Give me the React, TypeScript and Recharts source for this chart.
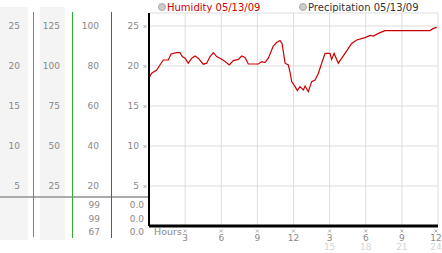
import { LineChart, Line, XAxis, YAxis, CartesianGrid } from "recharts";

// hours since midnight, humidity in %
const hours = [
  0, 0.22, 0.64, 0.91, 1.19, 1.6, 1.83, 2.3, 2.57, 2.77, 2.99, 3.26, 3.55, 3.82, 4.09, 4.51, 4.79, 5.07,
  5.34, 5.62, 6.04, 6.31, 6.67, 7.0, 7.42, 7.7, 7.97, 8.25, 9.08, 9.36, 9.63, 9.91, 10.32, 10.6, 10.88,
  11.05, 11.3, 11.57, 11.71, 11.85, 12.13, 12.32, 12.54, 12.82, 12.96, 13.23, 13.51, 13.79, 14.06, 14.34,
  14.62, 15.03, 15.17, 15.37, 15.72, 16.28, 16.83, 17.25, 17.94, 18.36, 18.63, 19.05, 19.6, 23.34, 23.61, 23.9,
];
const humidity = [
  74, 76.4, 78, 80.5, 83, 83, 86, 86.7, 86.7, 84.7, 83.9, 81.4, 83.9, 85, 83.9, 80.9, 81.4, 84.7,
  86.7, 84.7, 83.4, 82.2, 80.5, 82.7, 83.3, 85, 84.3, 81, 81, 82.2, 81.7, 83.9, 90, 91.7, 92.7,
  91.3, 81.4, 80.5, 77, 72.2, 69.7, 67.7, 69.7, 68, 70, 67.2, 72.2, 73, 76.3, 81.4,
  86.3, 86.3, 83.3, 86.3, 81.4, 86.3, 91.3, 93, 94.2, 95.3, 95, 96.3, 97.7, 97.7, 98.8, 99.3,
];

const humTicks = [20, 40, 60, 80, 100];
const colA = ["5", "10", "15", "20", "25"];
const colB = ["25", "50", "75", "100", "125"];
const colC = ["20", "40", "60", "80", "100"];
const colD = ["5", "10", "15", "20", "25"];

const hourTicks = [3, 6, 9, 12, 15, 18, 21, 24];
const hourLabels = ["3", "6", "9", "12", "3", "6", "9", "12"];
const hourLabels24 = ["", "", "", "", "15", "18", "21", "24"];

const currentHum = ["99", "99", "67"];
const currentPrecip = ["0.0", "0.0", "0.0"];

const legendItems = [
  { label: "Humidity 05/13/09", color: "#cc0000", x: 158 },
  { label: "Precipitation 05/13/09", color: "#333333", x: 299 },
];

const data = hours.map((h, i) => ({ h, hum: humidity[i] }));

const FONT = "'DejaVu Sans', Verdana, sans-serif";

function Mark({ x, y }: { x: number; y: number }) {
  return (
    <path
      d={`M${x - 1.5},${y - 1.5}L${x + 1.5},${y + 1.5}M${x + 1.5},${y - 1.5}L${x - 1.5},${y + 1.5}`}
      stroke="#b0b0b0"
      strokeWidth={1}
      fill="none"
    />
  );
}

function YTick(props: any) {
  const { y, payload } = props;
  const i = humTicks.indexOf(payload.value);
  if (i < 0) return null;
  const common = { fontSize: 9, fill: "#888", fontFamily: FONT, textAnchor: "end" as const, dy: "0.35em" };
  return (
    <g>
      <text x={20} y={y} {...common}>{colA[i]}</text>
      <text x={60} y={y} {...common}>{colB[i]}</text>
      <text x={99} y={y} {...common}>{colC[i]}</text>
      <text x={139} y={y} {...common}>{colD[i]}</text>
      <Mark x={145} y={y + 0.5} />
    </g>
  );
}

function XTick(props: any) {
  const { x, y, payload } = props;
  const i = hourTicks.indexOf(payload.value);
  if (i < 0) return null;
  const tx = i === hourTicks.length - 1 ? x - 2 : x;
  return (
    <g>
      <Mark x={tx} y={y + 5} />
      <text x={tx} y={y + 11.5} fontSize={9} fill="#888" fontFamily={FONT} textAnchor="middle" dy="0.35em">
        {hourLabels[i]}
      </text>
      {hourLabels24[i] && (
        <text x={tx} y={y + 21} fontSize={9} fill="#d4d4d4" fontFamily={FONT} textAnchor="middle" dy="0.35em">
          {hourLabels24[i]}
        </text>
      )}
    </g>
  );
}

const abs = (s: React.CSSProperties): React.CSSProperties => ({ position: "absolute", ...s });

export default function App() {
  return (
    <div style={abs({ left: 0, top: 0, width: 442, height: 253, background: "#fff", fontFamily: FONT, overflow: "hidden" })}>
      {/* left panel */}
      <div style={abs({ left: 0, top: 7, width: 28, height: 233, background: "#f4f4f4" })} />
      <div style={abs({ left: 40, top: 7, width: 25, height: 233, background: "#f4f4f4" })} />
      <div style={abs({ left: 0, top: 196, width: 149, height: 2, background: "#aaa" })} />
      <div style={abs({ left: 33, top: 12, width: 1, height: 225, background: "#2f9bd6" })} />
      <div style={abs({ left: 72, top: 12, width: 1, height: 226, background: "#2fae2f" })} />
      <div style={abs({ left: 111, top: 12, width: 1, height: 226, background: "#cc2b2b" })} />
      {currentHum.map((v, i) => (
        <div key={"h" + i} style={abs({ left: 70, width: 30, top: 200 + i * 13.5, fontSize: 9, color: "#888", textAlign: "right", lineHeight: "10px" })}>
          {v}
        </div>
      ))}
      {currentPrecip.map((v, i) => (
        <div key={"p" + i} style={abs({ left: 110, width: 34, top: 200 + i * 13.5, fontSize: 9, color: "#888", textAlign: "right", lineHeight: "10px" })}>
          {v}
        </div>
      ))}
      <div style={abs({ left: 154, top: 227, fontSize: 9.5, color: "#888", lineHeight: "10px" })}>Hours</div>
      {legendItems.map((l) => (
        <div key={l.label} style={abs({ left: l.x, top: 1, height: 12, display: "flex", alignItems: "center", gap: 1, fontSize: 10, color: l.color, whiteSpace: "nowrap" })}>
          <span style={{ width: 6, height: 6, borderRadius: "50%", background: "#ccc", border: "1px solid #aaa", display: "inline-block" }} />
          {l.label}
        </div>
      ))}
      <div style={abs({ left: 0, top: 0 })}>
        <LineChart width={442} height={253} data={data} margin={{ top: 13, right: 4, bottom: 0, left: 0 }}>
          <CartesianGrid stroke="#dddddd" />
          <XAxis
            dataKey="h"
            type="number"
            domain={[0, 24]}
            ticks={hourTicks}
            height={27}
            tickSize={0}
            tickMargin={0}
            axisLine={{ stroke: "#000", strokeWidth: 3 }}
            tick={<XTick />}
            interval={0}
          />
          <YAxis
            type="number"
            domain={[0, 106.5]}
            ticks={humTicks}
            width={149}
            tickSize={0}
            tickMargin={0}
            axisLine={{ stroke: "#000", strokeWidth: 2 }}
            tick={<YTick />}
            interval={0}
          />
          <Line dataKey="hum" type="linear" stroke="#cc0000" strokeWidth={1.2} dot={false} isAnimationActive={false} />
        </LineChart>
      </div>
    </div>
  );
}
